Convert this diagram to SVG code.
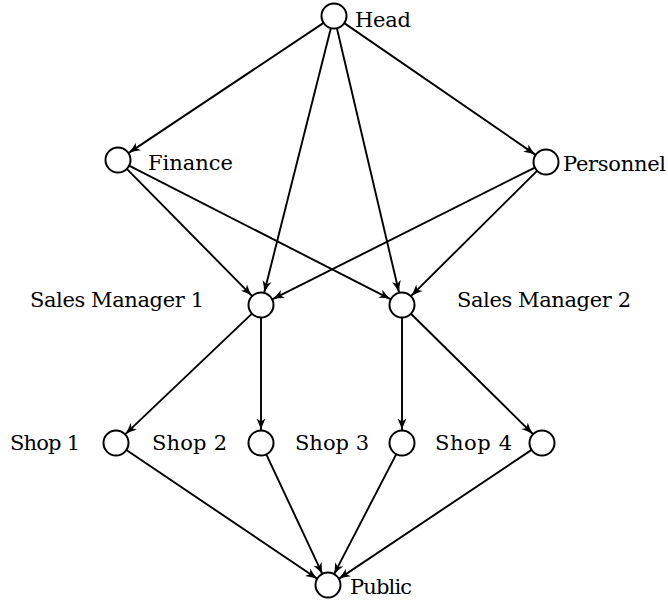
<svg xmlns="http://www.w3.org/2000/svg" width="668" height="600" viewBox="0 0 668 600">
<style>
.node circle{fill:#fff;stroke:#000;stroke-width:2}
.node text{font-family:"DejaVu Serif","Liberation Serif",serif;font-size:21px;fill:#000}
.edges line{stroke:#000;stroke-width:1.9;marker-end:url(#arr)}
</style>
<defs>
<marker id="arr" markerUnits="userSpaceOnUse" markerWidth="13" markerHeight="10" refX="12" refY="5" orient="auto">
<path d="M0,0.5 Q6,3.6 12,5 Q6,6.4 0,9.5 L3,5 Z" fill="#000"/>
</marker>
</defs>
<rect width="668" height="600" fill="#fff"/>
<g id="edges" class="edges">
<line x1="323.6" y1="22.9" x2="128.4" y2="153.1"/>
<line x1="344.3" y1="23.1" x2="535.7" y2="154.9"/>
<line x1="330.9" y1="28.1" x2="264.1" y2="292.9"/>
<line x1="336.9" y1="28.2" x2="399.1" y2="292.8"/>
<line x1="126.8" y1="168.9" x2="252.2" y2="296.1"/>
<line x1="129.1" y1="165.7" x2="390.9" y2="299.3"/>
<line x1="534.8" y1="167.6" x2="272.2" y2="299.4"/>
<line x1="537.1" y1="170.8" x2="410.9" y2="296.2"/>
<line x1="252.0" y1="313.6" x2="125.1" y2="434.4"/>
<line x1="261" y1="317.5" x2="261" y2="430.5"/>
<line x1="402" y1="317.5" x2="402" y2="430.5"/>
<line x1="410.9" y1="313.8" x2="533.1" y2="434.2"/>
<line x1="126.4" y1="450.0" x2="317.6" y2="579.0"/>
<line x1="266.3" y1="454.3" x2="322.7" y2="574.7"/>
<line x1="396.3" y1="454.1" x2="333.7" y2="574.9"/>
<line x1="531.6" y1="449.9" x2="338.4" y2="579.1"/>
</g>
<g id="head" class="node"><circle cx="334" cy="16" r="12.5"/><text x="355" y="27" textLength="56">Head</text></g>
<g id="finance" class="node"><circle cx="118" cy="160" r="12.5"/><text x="148" y="170" textLength="85">Finance</text></g>
<g id="personnel" class="node"><circle cx="546" cy="162" r="12.5"/><text x="563" y="171" textLength="103">Personnel</text></g>
<g id="sm1" class="node"><circle cx="261" cy="305" r="12.5"/><text x="30" y="307" textLength="174">Sales Manager 1</text></g>
<g id="sm2" class="node"><circle cx="402" cy="305" r="12.5"/><text x="457" y="307" textLength="174">Sales Manager 2</text></g>
<g id="shop1" class="node"><circle cx="116" cy="443" r="12.5"/><text x="10" y="450" textLength="70">Shop 1</text></g>
<g id="shop2" class="node"><circle cx="261" cy="443" r="12.5"/><text x="152" y="450" textLength="75">Shop 2</text></g>
<g id="shop3" class="node"><circle cx="402" cy="443" r="12.5"/><text x="295" y="450" textLength="74">Shop 3</text></g>
<g id="shop4" class="node"><circle cx="542" cy="443" r="12.5"/><text x="435" y="450" textLength="77">Shop 4</text></g>
<g id="public" class="node"><circle cx="328" cy="585" r="12.5"/><text x="350" y="594" textLength="62">Public</text></g>
</svg>
